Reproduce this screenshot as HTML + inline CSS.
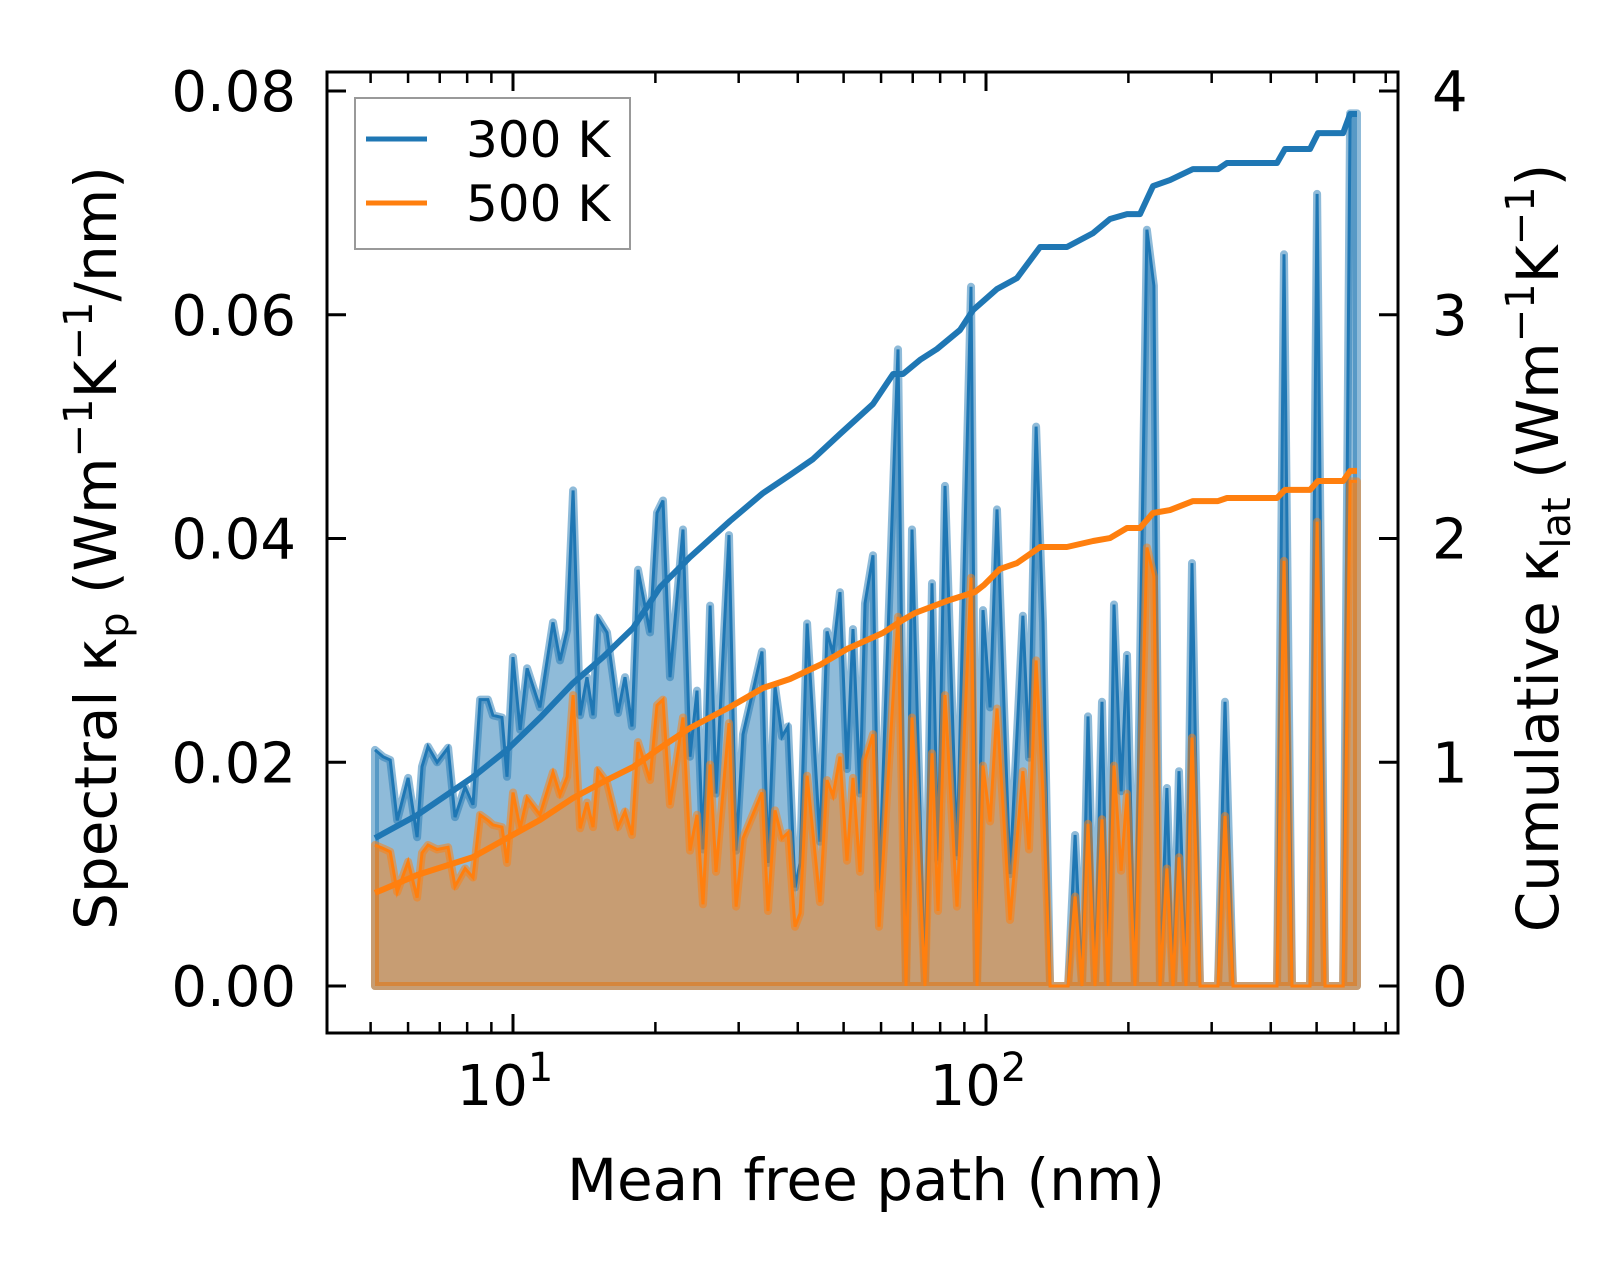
<!DOCTYPE html>
<html><head><meta charset="utf-8"><style>
html,body{margin:0;padding:0;background:#fff;}
svg{display:block;font-family:"DejaVu Sans","Liberation Sans",sans-serif;}
</style></head><body>
<svg id="chart" width="1623" height="1266" viewBox="0 0 1623 1266" xmlns="http://www.w3.org/2000/svg">
<rect width="1623" height="1266" fill="#fff"/>
<g id="plot"></g>
<g id="axes"></g>
</svg>
<script>
// ---- data ----
const mfp = [5.108,5.31,5.50,5.69,6.00,6.27,6.42,6.61,6.91,7.29,7.54,7.92,8.23,8.52,8.85,9.07,9.48,9.71,10.0,10.35,10.71,11.40,12.15,12.57,13.01,13.40,13.86,14.34,14.76,15.12,15.80,16.67,17.25,17.85,18.38,19.48,20.16,20.76,21.47,22.88,23.67,24.49,25.22,26.10,26.87,28.62,29.62,30.64,33.61,34.60,35.80,37.04,38.14,39.47,40.45,41.85,44.57,46.12,47.49,49.13,50.83,52.34,54.16,55.49,57.70,59.40,65.16,67.75,69.76,74.30,76.88,79.16,81.91,86.84,92.97,95.72,98.56,102.0,105.5,112.4,119.7,123.3,127.6,132.0,136.6,149.1,154.3,159.6,164.3,170.0,175.9,181.1,186.5,193.0,198.7,206.5,218.9,226.5,233.3,241.3,248.5,255.9,264.8,272.6,283.4,309.4,320.1,332.8,412.3,426.6,443.6,484.2,501.1,520.9,568.7,588.4,608.7];
const spec300 = [0.0211,0.0205,0.0202,0.0148,0.0186,0.0133,0.0196,0.0214,0.0200,0.0213,0.0151,0.0178,0.0162,0.0256,0.0256,0.0242,0.0240,0.0187,0.0294,0.0229,0.0284,0.0249,0.0325,0.0291,0.0318,0.0443,0.0242,0.0276,0.0242,0.0329,0.0316,0.0244,0.0276,0.0232,0.0372,0.0316,0.0423,0.0434,0.0276,0.0408,0.0205,0.0264,0.0122,0.0340,0.0172,0.0403,0.0121,0.0225,0.0299,0.0110,0.0268,0.0223,0.0232,0.0088,0.0110,0.0324,0.0129,0.0317,0.0297,0.0352,0.0194,0.0319,0.0172,0.0342,0.0385,0.0086,0.0569,0,0.0408,0,0.0360,0.0112,0.0447,0.0116,0.0625,0,0.0336,0.0249,0.0426,0.0100,0.0331,0.0204,0.0500,0.0325,0,0,0.0135,0,0.0241,0,0.0254,0,0.0341,0.0174,0.0296,0,0.0676,0.0626,0,0.0177,0,0.0192,0,0.0378,0,0,0.0254,0,0,0.0654,0,0,0.0708,0,0,0.0780,0.0780];
const spec500 = [0.0126,0.0123,0.0120,0.0084,0.0111,0.0079,0.0119,0.0126,0.0122,0.0124,0.0089,0.0105,0.0097,0.0153,0.0148,0.0144,0.0142,0.0110,0.0173,0.0141,0.0168,0.0153,0.0191,0.0171,0.0187,0.0260,0.0141,0.0164,0.0142,0.0193,0.0182,0.0142,0.0156,0.0135,0.0218,0.0184,0.0251,0.0256,0.0162,0.0240,0.0121,0.0153,0.0073,0.0198,0.0102,0.0235,0.0071,0.0132,0.0173,0.0067,0.0157,0.0132,0.0137,0.0053,0.0065,0.0188,0.0075,0.0184,0.0170,0.0205,0.0112,0.0186,0.0102,0.0202,0.0225,0.0053,0.0330,0,0.0240,0,0.0208,0.0067,0.0260,0.0071,0.0365,0,0.0197,0.0147,0.0248,0.0059,0.0192,0.0122,0.0291,0.0172,0,0,0.0080,0,0.0145,0,0.0149,0,0.0197,0.0103,0.0172,0,0.0392,0.0366,0,0.0105,0,0.0115,0,0.0222,0,0,0.0152,0,0,0.0380,0,0,0.0415,0,0,0.0451,0.0451];
const cumMfp300 = [5.108,6.27,8.23,9.71,11.40,13.40,15.50,17.94,20.46,23.67,24.85,28.76,33.77,38.51,43.08,49.13,57.70,63.62,66.77,72.53,78.78,88.10,93.87,105.5,116.3,130.1,148.3,168.4,182.9,198.7,211.6,225.5,244.9,273.9,309.4,323.2,412.3,428.6,484.2,503.5,568.7,588.4,608.7];
const cum300 = [0.661,0.764,0.934,1.055,1.198,1.354,1.470,1.600,1.783,1.917,1.957,2.078,2.203,2.284,2.355,2.467,2.601,2.735,2.735,2.798,2.847,2.932,3.021,3.115,3.164,3.303,3.303,3.365,3.428,3.450,3.450,3.575,3.602,3.651,3.651,3.678,3.678,3.741,3.741,3.812,3.812,3.897,3.897];
const cumMfp500 = [5.108,6.27,8.23,9.71,11.40,13.40,15.80,17.94,20.46,23.67,28.76,33.77,38.51,44.57,50.83,60.56,66.77,70.78,82.71,94.78,99.03,107.1,116.3,130.1,148.3,168.4,182.9,198.7,211.6,225.5,244.9,273.9,309.4,323.2,412.3,428.6,484.2,503.5,568.7,588.4,608.7];
const cum500 = [0.416,0.496,0.576,0.661,0.742,0.840,0.921,0.979,1.064,1.153,1.247,1.332,1.372,1.435,1.506,1.578,1.636,1.667,1.721,1.761,1.792,1.864,1.890,1.962,1.962,1.989,2.002,2.047,2.047,2.114,2.127,2.167,2.167,2.181,2.181,2.217,2.217,2.257,2.257,2.302,2.302];
const leftTicks = [0,0.02,0.04,0.06,0.08];
const leftTickLabels = ["0.00","0.02","0.04","0.06","0.08"];
const rightTicks = [0,1,2,3,4];
const rightTickLabels = ["0","1","2","3","4"];
const xMajor = [10,100];
const xMajorExp = ["1","2"];
const xMinor = [5,6,7,8,9,20,30,40,50,60,70,80,90,200,300,400,500,600,700];

// ---- scales ----
const L=327,R=1398,T=72,B=1033;
function xs(m){return 513+(Math.log10(m)-1)*473;}
function yl(k){return 986-k/0.08*895;}
function yr(c){return 986-c/4*895;}
const NS="http://www.w3.org/2000/svg";
function mk(tag,attrs,parent){const e=document.createElementNS(NS,tag);for(const k in attrs)e.setAttribute(k,attrs[k]);parent.appendChild(e);return e;}
const plot=document.getElementById('plot');
const axes=document.getElementById('axes');

function areaPath(vals){
  let d='M'+xs(mfp[0]).toFixed(1)+','+yl(0).toFixed(1);
  for(let i=0;i<mfp.length;i++) d+='L'+xs(mfp[i]).toFixed(1)+','+yl(vals[i]).toFixed(1);
  d+='L'+xs(mfp[mfp.length-1]).toFixed(1)+','+yl(0).toFixed(1)+'Z';
  return d;
}
function linePath(xv,yv,fy){
  let d='';
  for(let i=0;i<xv.length;i++) d+=(i?'L':'M')+xs(xv[i]).toFixed(1)+','+fy(yv[i]).toFixed(1);
  return d;
}
let e=mk('path',{d:areaPath(spec300),fill:'#1f77b4','fill-opacity':0.5,stroke:'#1f77b4','stroke-opacity':0.5,'stroke-width':8,'stroke-linejoin':'round'},plot);


e=mk('path',{d:linePath(mfp,spec300,yl),fill:'none',stroke:'#1f77b4','stroke-width':3},plot);


e=mk('path',{d:areaPath(spec500),fill:'#ff7f0e','fill-opacity':0.5,stroke:'#ff7f0e','stroke-opacity':0.5,'stroke-width':8,'stroke-linejoin':'round'},plot);


e=mk('path',{d:linePath(mfp,spec500,yl),fill:'none',stroke:'#ff7f0e','stroke-width':3},plot);


e=mk('path',{d:linePath(cumMfp300,cum300,yr),fill:'none',stroke:'#1f77b4','stroke-width':6,'stroke-linejoin':'round'},plot);


e=mk('path',{d:linePath(cumMfp500,cum500,yr),fill:'none',stroke:'#ff7f0e','stroke-width':6,'stroke-linejoin':'round'},plot);



e=mk('rect',{x:L,y:T,width:R-L,height:B-T,fill:'none',stroke:'#000','stroke-width':3},axes);


leftTicks.forEach((v,i)=>{
  const y=yl(v);
  let t=mk('line',{x1:L,x2:L+19,y1:y,y2:y,stroke:'#000','stroke-width':3},axes);
  
  
  let lb=mk('text',{x:296,y:y+20,'text-anchor':'end','font-size':56},axes);
  lb.textContent=leftTickLabels[i];
  
  
});
rightTicks.forEach((v,i)=>{
  const y=yr(v);
  let t=mk('line',{x1:R-19,x2:R,y1:y,y2:y,stroke:'#000','stroke-width':3},axes);
  
  
  let lb=mk('text',{x:1432,y:y+20,'text-anchor':'start','font-size':56},axes);
  lb.textContent=rightTickLabels[i];
  
  
});
xMajor.forEach((v,i)=>{
  const x=xs(v);
  let t=mk('line',{x1:x,x2:x,y1:B,y2:B-19,stroke:'#000','stroke-width':3},axes);
  
  
  t=mk('line',{x1:x,x2:x,y1:T,y2:T+19,stroke:'#000','stroke-width':3},axes);
  
  
  let lb=mk('text',{x:x-8,y:1105,'text-anchor':'middle','font-size':56},axes);
  lb.textContent='10';
  
  
  let sp=mk('tspan',{'font-size':40,dy:-24},lb);
  sp.textContent=xMajorExp[i];
});
xMinor.forEach(v=>{
  const x=xs(v);
  let t=mk('line',{x1:x,x2:x,y1:B,y2:B-11,stroke:'#000','stroke-width':2.5},axes);
  
  
  t=mk('line',{x1:x,x2:x,y1:T,y2:T+11,stroke:'#000','stroke-width':2.5},axes);
  
  
});
</script>
<svg style="position:absolute;left:0;top:0" width="1623" height="1266" viewBox="0 0 1623 1266" xmlns="http://www.w3.org/2000/svg" font-family="DejaVu Sans, Liberation Sans, sans-serif">
<text x="866" y="1200" text-anchor="middle" font-size="58">Mean free path (nm)</text>
<text transform="translate(116,548) rotate(-90)" text-anchor="middle" font-size="58">Spectral κ<tspan font-size="40" dy="12">p</tspan><tspan dy="-12"> (Wm</tspan><tspan font-size="40" dy="-24">−1</tspan><tspan dy="24">K</tspan><tspan font-size="40" dy="-24">−1</tspan><tspan dy="24">/nm)</tspan></text>
<text transform="translate(1558,548) rotate(-90)" text-anchor="middle" font-size="58">Cumulative κ<tspan font-size="40" dy="12">lat</tspan><tspan dy="-12"> (Wm</tspan><tspan font-size="40" dy="-24">−1</tspan><tspan dy="24">K</tspan><tspan font-size="40" dy="-24">−1</tspan><tspan dy="24">)</tspan></text>
<g>
<rect x="355" y="98" width="275" height="151" fill="#fff" fill-opacity="0.8" stroke="#999" stroke-width="2"/>
<line x1="366" x2="427" y1="139" y2="139" stroke="#1f77b4" stroke-width="5"/>
<text x="466" y="157" font-size="50">300 K</text>
<line x1="366" x2="427" y1="203" y2="203" stroke="#ff7f0e" stroke-width="5"/>
<text x="466" y="221" font-size="50">500 K</text>
</g>
</svg>
</body></html>
